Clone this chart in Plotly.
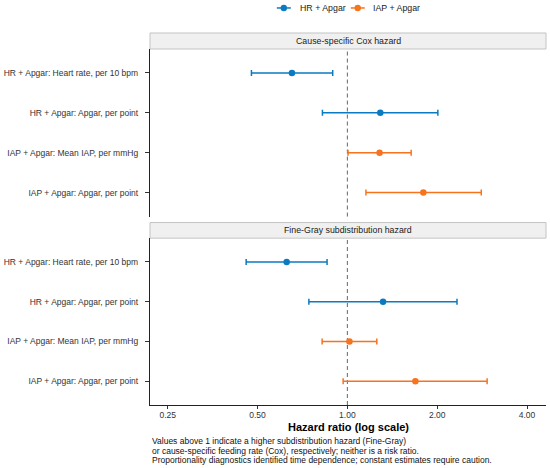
import math
import plotly.graph_objects as go
from plotly.subplots import make_subplots

rows = ["HR + Apgar: Heart rate, per 10 bpm", "HR + Apgar: Apgar, per point",
        "IAP + Apgar: Mean IAP, per mmHg", "IAP + Apgar: Apgar, per point"]
models = ["HR + Apgar", "HR + Apgar", "IAP + Apgar", "IAP + Apgar"]
legend_names = ["HR + Apgar", "IAP + Apgar"]
panels = ["Cause-specific Cox hazard", "Fine-Gray subdistribution hazard"]

cox_hr = [0.652, 1.289, 1.282, 1.797]
cox_lo = [0.477, 0.825, 1.005, 1.154]
cox_hi = [0.893, 2.01, 1.636, 2.81]

fg_hr = [0.626, 1.317, 1.016, 1.69]
fg_lo = [0.458, 0.743, 0.823, 0.968]
fg_hi = [0.855, 2.33, 1.255, 2.94]

tick_vals = [0.25, 0.5, 1.0, 2.0, 4.0]
tick_text = ["0.25", "0.50", "1.00", "2.00", "4.00"]
caption_lines = [
    "Values above 1 indicate a higher subdistribution hazard (Fine-Gray)",
    "or cause-specific feeding rate (Cox), respectively; neither is a risk ratio.",
    "Proportionality diagnostics identified time dependence; constant estimates require caution.",
]

colors = {"HR + Apgar": "#0B7BC1", "IAP + Apgar": "#F8731E"}
FONT = "Liberation Sans, Arial, sans-serif"

W, H = 550, 468
PL, PR, PT, PB = 150.0, 546.5, 49.3, 405.0   # plot area in pixels
pw, ph = PR - PL, PB - PT


def px2x(px):
    return (px - PL) / pw


def py2y(py):
    return (PB - py) / ph


cox_bottom = py2y(216.7)
fg_top = py2y(238.3)

fig = make_subplots(rows=2, cols=1, shared_xaxes=True)
fig.update_layout(yaxis=dict(domain=[cox_bottom, 1.0]), yaxis2=dict(domain=[0.0, fg_top]))

data = [(cox_hr, cox_lo, cox_hi), (fg_hr, fg_lo, fg_hi)]
for pi, (hr, lo, hi) in enumerate(data):
    for m in legend_names:
        idx = [i for i in range(len(rows)) if models[i] == m]
        fig.add_trace(go.Scatter(
            x=[hr[i] for i in idx], y=idx, mode="markers", name=m,
            showlegend=False,
            marker=dict(color=colors[m], size=6.5),
            error_x=dict(type="data", symmetric=False,
                         array=[hi[i] - hr[i] for i in idx],
                         arrayminus=[hr[i] - lo[i] for i in idx],
                         color=colors[m], thickness=1.5, width=3),
        ), row=pi + 1, col=1)

xr = [math.log10(0.2181), math.log10(4.63)]
for ax in ["xaxis", "xaxis2"]:
    fig.layout[ax].update(type="log", range=xr, showgrid=False, zeroline=False,
                          tickvals=tick_vals, ticktext=tick_text)
fig.layout.xaxis.update(showticklabels=False, showline=False, ticks="")
fig.layout.xaxis2.update(showline=True, linecolor="#222", linewidth=1.3,
                         ticks="outside", ticklen=3, tickcolor="#333", tickwidth=1,
                         ticklabelstandoff=-1,
                         tickfont=dict(size=8.5, color="#333", family=FONT))
for ax in ["yaxis", "yaxis2"]:
    fig.layout[ax].update(range=[3.6, -0.6], tickvals=list(range(4)), ticktext=rows,
                          showgrid=False, zeroline=False, showline=True,
                          linecolor="#222", linewidth=1.3, ticks="outside",
                          ticklen=4, tickcolor="#333", tickwidth=1,
                          ticklabelstandoff=5,
                          tickfont=dict(size=8.5, color="#333", family=FONT))

# reference line at 1
for xref, yref in [("x", "y domain"), ("x2", "y2 domain")]:
    fig.add_shape(type="line", xref=xref, yref=yref,
                  x0=1, x1=1, y0=0, y1=1,
                  line=dict(color="#666", width=1, dash="4px,3px"), layer="below")

# strips
for (st, sb), label in [((33.3, 49.3), panels[0]), ((222.7, 238.3), panels[1])]:
    fig.add_shape(type="rect", xref="paper", yref="paper", x0=0, x1=1,
                  y0=py2y(sb), y1=py2y(st),
                  fillcolor="#F0F0F0", line=dict(color="#C4C4C4", width=1))
    fig.add_annotation(xref="paper", yref="paper", x=0.5, y=py2y((st + sb) / 2),
                       text=label, showarrow=False, yanchor="middle",
                       font=dict(size=8.8, color="#1A1A1A", family=FONT))

# legend (custom, centred over panel)
leg_y = 8.3
leg_items = [(277.0, 297.7), (351.0, 371.7)]
for m, (lx, tx) in zip(legend_names, leg_items):
    fig.add_shape(type="line", xref="paper", yref="paper",
                  x0=px2x(lx), x1=px2x(lx + 14), y0=py2y(leg_y), y1=py2y(leg_y),
                  line=dict(color=colors[m], width=1.5))
    cx, r = lx + 7, 3.2
    fig.add_shape(type="circle", xref="paper", yref="paper",
                  x0=px2x(cx - r), x1=px2x(cx + r), y0=py2y(leg_y + r), y1=py2y(leg_y - r),
                  fillcolor=colors[m], line=dict(color=colors[m], width=0))
    fig.add_annotation(xref="paper", yref="paper", x=px2x(tx), y=py2y(leg_y),
                       text=m, showarrow=False, xanchor="left", yanchor="middle",
                       font=dict(size=8.8, color="#222", family=FONT))

# axis title
fig.add_annotation(xref="paper", yref="paper", x=0.5, y=py2y(427),
                   text="<b>Hazard ratio (log scale)</b>", showarrow=False,
                   yanchor="middle", font=dict(size=11, color="#000", family=FONT))
# caption
for line, cy in zip(caption_lines, [441.0, 450.5, 460.0]):
    fig.add_annotation(xref="paper", yref="paper", x=0, y=py2y(cy),
                       text=line, showarrow=False, xanchor="left", yanchor="middle",
                       align="left", font=dict(size=8.5, color="#111", family=FONT))

fig.update_layout(
    width=W, height=H,
    margin=dict(l=PL, r=W - PR, t=PT, b=H - PB, autoexpand=False),
    paper_bgcolor="white", plot_bgcolor="white",
    font=dict(family=FONT), showlegend=False,
)

fig.write_html("out.html", config={"displayModeBar": False},
               post_script="document.body.style.margin='0px';")
